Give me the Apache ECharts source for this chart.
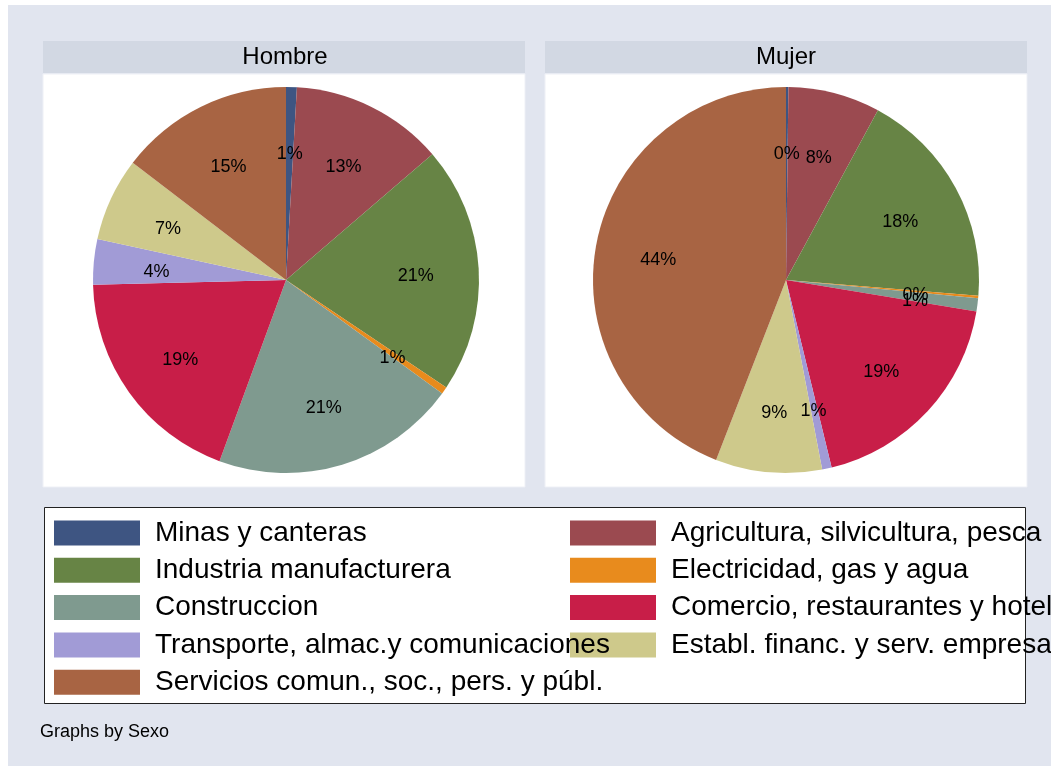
<!DOCTYPE html>
<html>
<head>
<meta charset="utf-8">
<script src="https://cdn.jsdelivr.net/npm/echarts@6/dist/echarts.min.js"></script>
<style>
  html, body { margin: 0; padding: 0; background: #fff; }
  #chart { width: 1051px; height: 766px; }
</style>
</head>
<body>
<div id="chart"></div>
<script>
// sectores de actividad, en el orden de las rebanadas (desde las 12, sentido horario)
var sectores = [
  "Minas y canteras",
  "Agricultura, silvicultura, pesca",
  "Industria manufacturera",
  "Electricidad, gas y agua",
  "Construccion",
  "Comercio, restaurantes y hoteles",
  "Transporte, almac.y comunicaciones",
  "Establ. financ. y serv. empresas",
  "Servicios comun., soc., pers. y públ."
];
// porcentajes
var hombre = [0.9, 12.8, 20.7, 0.6, 20.6, 19.0, 3.8, 7.0, 14.6];
var mujer = [0.2, 7.7, 18.4, 0.2, 1.1, 18.6, 0.8, 8.9, 44.1];
var paneles = ["Hombre", "Mujer"];
var colores = ["#3e5582", "#9b4a50", "#678445", "#e88b1d", "#7f9a8f", "#c81e48", "#a19bd6", "#cec98b", "#a86443"];

var fuente = "Liberation Sans, Arial, sans-serif";
var R = 193, centros = [[286, 280], [786, 280]];

function toData(vals) {
  return sectores.map(function (n, i) { return { name: n, value: vals[i] }; });
}

var series = [];
[hombre, mujer].forEach(function (vals, k) {
  series.push({
    type: "pie",
    center: centros[k],
    radius: R,
    startAngle: 90,
    clockwise: true,
    silent: true,
    label: { show: false },
    labelLine: { show: false },
    itemStyle: { borderWidth: 0 },
    data: toData(vals)
  });
});
// pie transparente solo para colocar las etiquetas a ~2/3 del radio
[hombre, mujer].forEach(function (vals, k) {
  series.push({
    type: "pie",
    center: centros[k],
    radius: R * 1.316,
    startAngle: 90,
    clockwise: true,
    silent: true,
    legendHoverLink: false,
    avoidLabelOverlap: false,
    labelLayout: { hideOverlap: false },
    z: 3,
    itemStyle: { color: "rgba(0,0,0,0)", borderWidth: 0 },
    label: {
      show: true,
      position: "inside",
      offset: [0, 4],
      color: "#000",
      fontSize: 18,
      fontFamily: fuente,
      formatter: function (p) { return Math.round(p.percent) + "%"; }
    },
    labelLine: { show: false },
    data: toData(vals)
  });
});

function legendData(idx) {
  return idx.map(function (i) {
    return { name: sectores[i], itemStyle: { color: colores[i] } };
  });
}
var legendBase = {
  orient: "vertical",
  top: 519,
  padding: 0,
  itemWidth: 86,
  itemHeight: 25,
  itemGap: 9.3,
  icon: "rect",
  selectedMode: false,
  textStyle: { fontSize: 28, fontFamily: fuente, color: "#000", padding: [0, 0, 0, 10] }
};

var graphic = [
  { type: "rect", z: 0, shape: { x: 8, y: 5, width: 1043, height: 761 }, style: { fill: "#e1e5ef" } },
  { type: "rect", z: 0, shape: { x: 43, y: 41, width: 482, height: 32 }, style: { fill: "#d2d8e3" } },
  { type: "rect", z: 0, shape: { x: 545, y: 41, width: 482, height: 32 }, style: { fill: "#d2d8e3" } },
  { type: "rect", z: 0, shape: { x: 43, y: 74, width: 482, height: 413 }, style: { fill: "#fff", stroke: "#eef0f6", lineWidth: 1 } },
  { type: "rect", z: 0, shape: { x: 545, y: 74, width: 482, height: 413 }, style: { fill: "#fff", stroke: "#eef0f6", lineWidth: 1 } },
  { type: "rect", z: 0, shape: { x: 44.5, y: 507.5, width: 981, height: 196 }, style: { fill: "#fff", stroke: "#222", lineWidth: 1 } },
  { type: "text", z: 1, x: 285, y: 57, style: { text: paneles[0], font: "24px " + fuente, fill: "#000", textAlign: "center", textVerticalAlign: "middle" } },
  { type: "text", z: 1, x: 786, y: 57, style: { text: paneles[1], font: "24px " + fuente, fill: "#000", textAlign: "center", textVerticalAlign: "middle" } },
  { type: "text", z: 1, x: 40, y: 732, style: { text: "Graphs by Sexo", font: "18px " + fuente, fill: "#000", textAlign: "left", textVerticalAlign: "middle" } }
];

var chart = echarts.init(document.getElementById("chart"), null, { renderer: "canvas" });
chart.setOption({
  animation: false,
  color: colores,
  graphic: graphic,
  legend: [
    Object.assign({}, legendBase, { left: 54, z: 6, data: legendData([0, 2, 4, 6, 8]) }),
    Object.assign({}, legendBase, { left: 570, z: 5, data: legendData([1, 3, 5, 7]) })
  ],
  series: series
});
</script>
</body>
</html>
